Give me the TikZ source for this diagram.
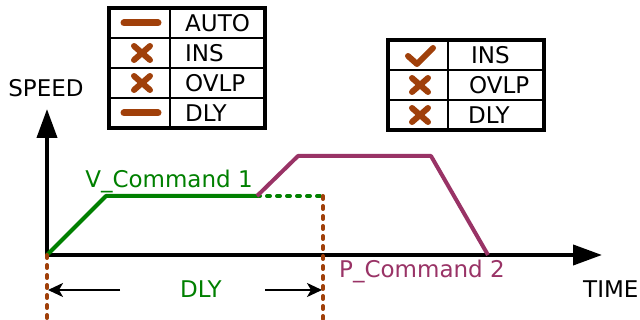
\documentclass[tikz,border=0pt]{standalone}
\usepackage{fontspec}
\setmainfont{DejaVu Sans}
\usetikzlibrary{arrows.meta}

\definecolor{rust}{RGB}{160,64,10}
\definecolor{vgreen}{RGB}{0,128,0}
\definecolor{pmag}{RGB}{153,51,102}

\tikzset{
	lbl/.style={inner sep=0pt, font=\fontsize{23}{27}\selectfont},
	icon/.style={rust, line width=6pt, line cap=round, line join=round},
	boxout/.style={line width=4pt},
	boxin/.style={line width=1.5pt},
	axis/.style={line width=4pt, -{Triangle[length=29pt,width=20pt]}},
	rustdot/.style={rust, line width=4pt, line cap=round, dash pattern=on 3pt off 7pt},
	dlyarrow/.style={line width=2pt, -{Stealth[length=15pt,width=14pt,inset=4pt]}},
}

\begin{document}
\begin{tikzpicture}[x=1pt,y=-1pt]
	\useasboundingbox (0,0) rectangle (640,320);

	% left table
	\draw [boxin] (170,8)--(170,128);
	\draw [boxin] (109,38)--(265,38);
	\draw [boxin] (109,68)--(265,68);
	\draw [boxin] (109,98)--(265,98);
	\draw [boxout] (109,8) rectangle (265,128);
	\draw [icon, line width=7pt] (124,23)--(158,23);
	\draw [icon] (134,46)--(150,60) (134,60)--(150,46);
	\draw [icon] (134,76)--(150,90) (134,90)--(150,76);
	\draw [icon, line width=7pt] (124,113)--(158,113);
	\node [lbl,anchor=west] (auto) at (185,23) {AUTO};
	\node [lbl,anchor=west] (insa) at (185,53) {INS};
	\node [lbl,anchor=west] (ovlpa) at (185,83) {OVLP};
	\node [lbl,anchor=west] (dlya) at (185,113) {DLY};

	% right table
	\draw [boxin] (448,40)--(448,130);
	\draw [boxin] (388,70)--(544,70);
	\draw [boxin] (388,100)--(544,100);
	\draw [boxout] (388,40) rectangle (544,130);
	\draw [icon] (408,56)--(417,64)--(433,48);
	\draw [icon] (412,78)--(428,92) (412,92)--(428,78);
	\draw [icon] (412,108)--(428,122) (412,122)--(428,108);
	\node [lbl,anchor=west] (insb) at (471,55) {INS};
	\node [lbl,anchor=west] (ovlpb) at (469,85) {OVLP};
	\node [lbl,anchor=west] (dlyb) at (468,115) {DLY};

	% axes
	\coordinate (o) at (47,255);
	\coordinate (ytip) at (47,109);
	\coordinate (xtip) at (602,255);
	\draw [axis] (o)--(ytip);
	\draw [axis] (o)--(xtip);
	\node [lbl] (speed) at (46,88) {SPEED};
	\node [lbl,anchor=west] (time) at (583,289) {TIME};

	% profiles
	\coordinate (g1) at (106,196);
	\coordinate (g2) at (257,196);
	\coordinate (g3) at (323,196);
	\coordinate (p1) at (298,156);
	\coordinate (p2) at (431,156);
	\coordinate (p3) at (488,255);
	\draw [vgreen, line width=4pt, line join=round] (o)--(g1)--(g2);
	\draw [vgreen, line width=4pt, line cap=round, dash pattern=on 3pt off 7pt] (g2)--(g3);
	\draw [pmag, line width=4pt, line join=round] (g2)--(p1)--(p2)--(p3);
	\node [lbl,text=vgreen] (vcmd) at (169,181) {V\_Command 1};
	\node [lbl,text=pmag] (pcmd) at (422,271) {P\_Command 2};

	% delay
	\coordinate (d0) at (47,320);
	\coordinate (d1) at (323,320);
	\draw [rustdot] (o)--(d0);
	\draw [rustdot] (g3)--(d1);
	\node [lbl,text=vgreen] (dly) at (201,289) {DLY};
	\draw [dlyarrow] (120,290)--(48,290);
	\draw [dlyarrow] (265,290)--(322,290);
\end{tikzpicture}
\end{document}
